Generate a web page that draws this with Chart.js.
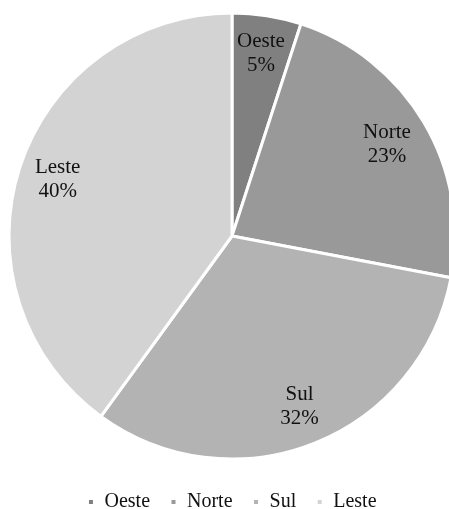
<!DOCTYPE html>
<html>
<head>
<meta charset="utf-8">
<script src="https://cdn.jsdelivr.net/npm/chart.js@4/dist/chart.umd.min.js"></script>
<style>
  html, body { margin: 0; padding: 0; background: #fff; overflow: hidden; }
  #wrap { width: 464px; height: 522px; }
</style>
</head>
<body>
<div id="wrap"><canvas id="pie"></canvas></div>
<script>
// Dados
const regioes = ['Oeste', 'Norte', 'Sul', 'Leste'];
const percentuais = [5, 23, 32, 40];
const cores = ['#808080', '#999999', '#b3b3b3', '#d3d3d3'];

const serif = "'Liberation Serif', 'Times New Roman', serif";

// Rótulos dentro das fatias (nome + percentual), encostados na borda como no Excel
const rotulosFatias = {
  id: 'rotulosFatias',
  afterDatasetsDraw(chart) {
    const { ctx } = chart;
    const meta = chart.getDatasetMeta(0);
    const total = percentuais.reduce((a, b) => a + b, 0);
    ctx.save();
    ctx.font = '21px ' + serif;
    ctx.fillStyle = '#111';
    ctx.textAlign = 'center';
    ctx.textBaseline = 'middle';
    meta.data.forEach((arc, i) => {
      const { x, y, startAngle, endAngle, outerRadius } =
        arc.getProps(['x', 'y', 'startAngle', 'endAngle', 'outerRadius'], true);
      const pct = Math.round(percentuais[i] / total * 100) + '%';
      const mid = (startAngle + endAngle) / 2;
      const ux = Math.abs(Math.cos(mid)), uy = Math.abs(Math.sin(mid));
      // caixa do rótulo: canto mais externo fica a 95,5% do raio
      const hw = Math.max(ctx.measureText(regioes[i]).width, ctx.measureText(pct).width) / 2;
      const hh = 24;
      const rc = outerRadius * 0.955;
      const b = ux * hw + uy * hh;
      const c = hw * hw + hh * hh - rc * rc;
      const d = -b + Math.sqrt(b * b - c);
      const cx = x + Math.cos(mid) * d;
      const cy = y + Math.sin(mid) * d;
      ctx.fillText(regioes[i], cx, cy - 12);
      ctx.fillText(pct, cx, cy + 12);
    });
    ctx.restore();
  }
};

new Chart(document.getElementById('pie'), {
  type: 'pie',
  data: {
    labels: regioes,
    datasets: [{
      data: percentuais,
      backgroundColor: cores,
      borderColor: '#fff',
      borderWidth: 3,
      hoverOffset: 0
    }]
  },
  options: {
    responsive: true,
    maintainAspectRatio: false,
    animation: false,
    radius: 223,
    layout: { padding: { top: -6, bottom: 0 } },
    plugins: {
      tooltip: { enabled: false },
      legend: {
        position: 'bottom',
        labels: {
          color: '#111',
          boxWidth: 7,
          boxHeight: 7,
          padding: 20,
          font: { family: serif, size: 20 }
        }
      }
    }
  },
  plugins: [rotulosFatias]
});
</script>
</body>
</html>
